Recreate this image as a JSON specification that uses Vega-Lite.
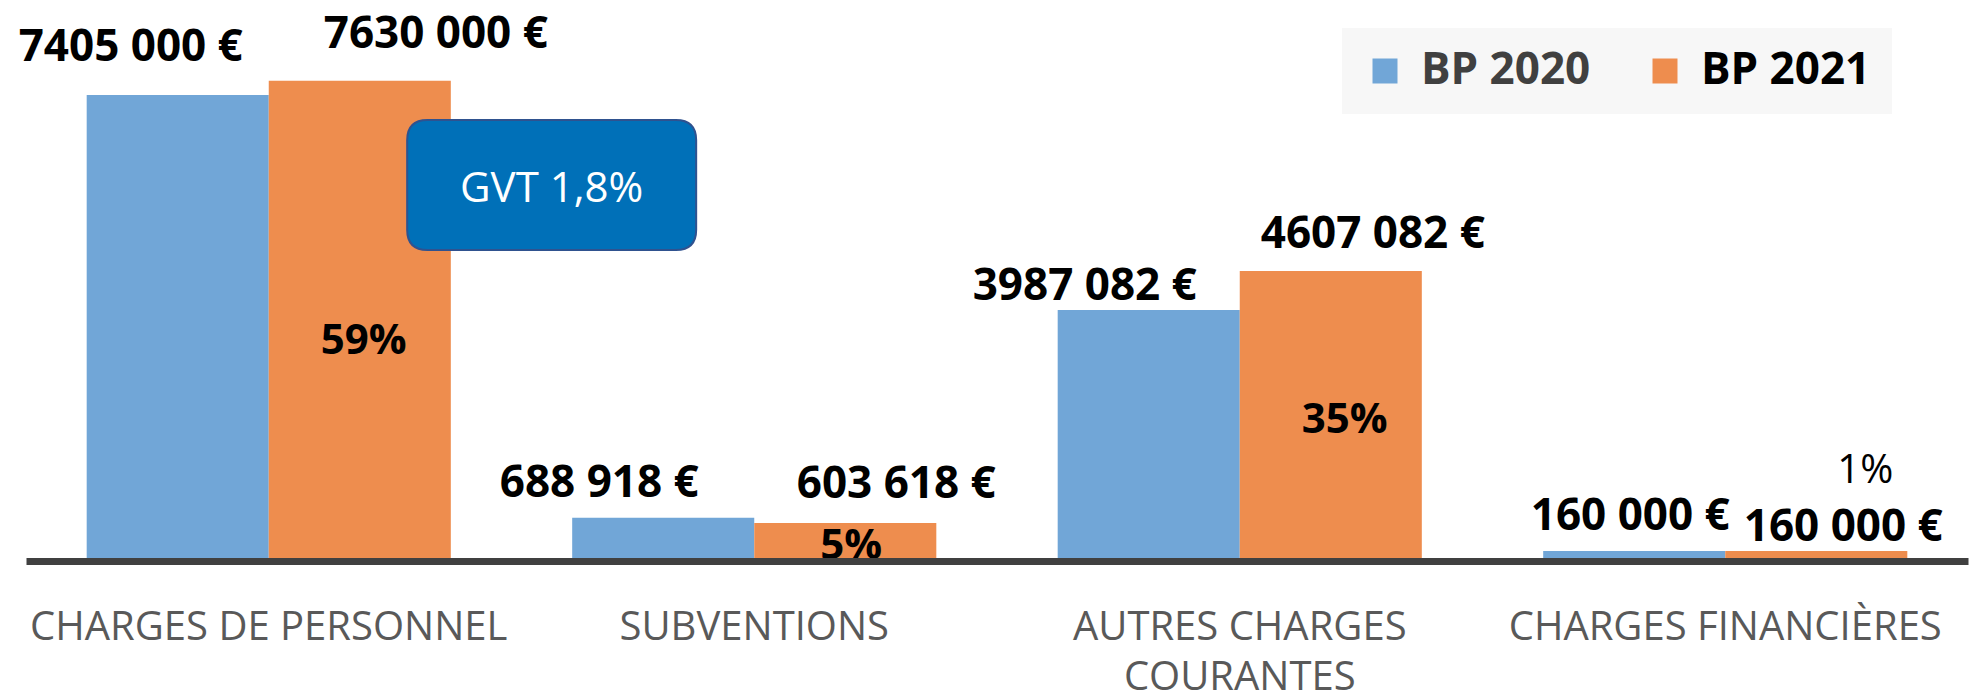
{
  "$schema": "https://vega.github.io/schema/vega-lite/v6.json",
  "width": 1942,
  "height": 561,
  "autosize": {"type": "none"},
  "padding": {"left": 26, "top": 0, "right": 14, "bottom": 139},
  "background": "#ffffff",
  "config": {"view": {"stroke": null}, "font": "Open Sans"},
  "datasets": {
    "budget": [
      {"categorie": "CHARGES DE PERSONNEL", "budget": "BP 2020", "montant": 7405000, "label": "7405 000 €", "part": null},
      {"categorie": "CHARGES DE PERSONNEL", "budget": "BP 2021", "montant": 7630000, "label": "7630 000 €", "part": "59%"},
      {"categorie": "SUBVENTIONS", "budget": "BP 2020", "montant": 688918, "label": "688 918 €", "part": null},
      {"categorie": "SUBVENTIONS", "budget": "BP 2021", "montant": 603618, "label": "603 618 €", "part": "5%"},
      {"categorie": "AUTRES CHARGES COURANTES", "budget": "BP 2020", "montant": 3987082, "label": "3987 082 €", "part": null},
      {"categorie": "AUTRES CHARGES COURANTES", "budget": "BP 2021", "montant": 4607082, "label": "4607 082 €", "part": "35%"},
      {"categorie": "CHARGES FINANCIÈRES", "budget": "BP 2020", "montant": 160000, "label": "160 000 €", "part": null},
      {"categorie": "CHARGES FINANCIÈRES", "budget": "BP 2021", "montant": 160000, "label": "160 000 €", "part": "1%"}
    ],
    "annotations": [
      {"categorie": "CHARGES DE PERSONNEL", "texte": "GVT 1,8%"}
    ]
  },
  "data": {"name": "budget"},
  "layer": [
    {
      "mark": {"type": "bar"},
      "encoding": {
        "x": {
          "field": "categorie",
          "type": "nominal",
          "scale": {
            "domain": ["CHARGES DE PERSONNEL", "SUBVENTIONS", "AUTRES CHARGES COURANTES", "CHARGES FINANCIÈRES"],
            "paddingInner": 0.25,
            "paddingOuter": 0.125
          },
          "axis": {
            "title": null,
            "ticks": false,
            "grid": false,
            "domainColor": "#404040",
            "domainWidth": 7,
            "labelFont": "Open Sans",
            "labelFontSize": 40,
            "labelColor": "#595959",
            "labelPadding": 46,
            "labelAngle": 0,
            "labelLimit": 700,
            "labelLineHeight": 50,
            "labelExpr": "datum.value == 'AUTRES CHARGES COURANTES' ? ['AUTRES CHARGES', 'COURANTES'] : datum.value",
            "zindex": 1
          }
        },
        "xOffset": {"field": "budget", "type": "nominal", "scale": {"domain": ["BP 2020", "BP 2021"]}},
        "y": {"field": "montant", "type": "quantitative", "scale": {"domain": [0, 8915000], "nice": false}, "axis": null},
        "color": {
          "field": "budget",
          "type": "nominal",
          "scale": {"domain": ["BP 2020", "BP 2021"], "range": ["#71A6D7", "#EE8D4E"]},
          "legend": {
            "title": null,
            "orient": "none",
            "legendX": 1316,
            "legendY": 28,
            "direction": "horizontal",
            "fillColor": "#F7F7F7",
            "padding": 21,
            "symbolType": "square",
            "symbolSize": 625,
            "symbolStrokeWidth": 0,
            "labelFont": "Open Sans",
            "labelFontWeight": "bold",
            "labelFontSize": 44,
            "labelColor": "#404040",
            "labelOffset": 14,
            "columnPadding": 52,
            "labelLimit": 400,
            "encode": {
              "labels": {"update": {"fill": {"signal": "datum.label === 'BP 2021' ? '#000000' : '#404040'"}}}
            }
          }
        }
      }
    },
    {
      "transform": [{"filter": "datum.budget == 'BP 2020' && datum.categorie == 'CHARGES DE PERSONNEL'"}],
      "mark": {"type": "text", "font": "Open Sans", "fontWeight": "bold", "fontSize": 44, "color": "#000000", "baseline": "alphabetic", "dx": -47, "dy": -34},
      "encoding": {
        "x": {"field": "categorie", "type": "nominal"},
        "xOffset": {"field": "budget", "type": "nominal"},
        "y": {"field": "montant", "type": "quantitative"},
        "text": {"field": "label"}
      }
    },
    {
      "transform": [{"filter": "datum.budget == 'BP 2021' && datum.categorie == 'CHARGES DE PERSONNEL'"}],
      "mark": {"type": "text", "font": "Open Sans", "fontWeight": "bold", "fontSize": 44, "color": "#000000", "baseline": "alphabetic", "dx": 76, "dy": -33},
      "encoding": {
        "x": {"field": "categorie", "type": "nominal"},
        "xOffset": {"field": "budget", "type": "nominal"},
        "y": {"field": "montant", "type": "quantitative"},
        "text": {"field": "label"}
      }
    },
    {
      "transform": [{"filter": "datum.budget == 'BP 2020' && datum.categorie == 'SUBVENTIONS'"}],
      "mark": {"type": "text", "font": "Open Sans", "fontWeight": "bold", "fontSize": 44, "color": "#000000", "baseline": "alphabetic", "dx": -64, "dy": -21},
      "encoding": {
        "x": {"field": "categorie", "type": "nominal"},
        "xOffset": {"field": "budget", "type": "nominal"},
        "y": {"field": "montant", "type": "quantitative"},
        "text": {"field": "label"}
      }
    },
    {
      "transform": [{"filter": "datum.budget == 'BP 2021' && datum.categorie == 'SUBVENTIONS'"}],
      "mark": {"type": "text", "font": "Open Sans", "fontWeight": "bold", "fontSize": 44, "color": "#000000", "baseline": "alphabetic", "dx": 51, "dy": -25},
      "encoding": {
        "x": {"field": "categorie", "type": "nominal"},
        "xOffset": {"field": "budget", "type": "nominal"},
        "y": {"field": "montant", "type": "quantitative"},
        "text": {"field": "label"}
      }
    },
    {
      "transform": [{"filter": "datum.budget == 'BP 2020' && datum.categorie == 'AUTRES CHARGES COURANTES'"}],
      "mark": {"type": "text", "font": "Open Sans", "fontWeight": "bold", "fontSize": 44, "color": "#000000", "baseline": "alphabetic", "dx": -64, "dy": -10},
      "encoding": {
        "x": {"field": "categorie", "type": "nominal"},
        "xOffset": {"field": "budget", "type": "nominal"},
        "y": {"field": "montant", "type": "quantitative"},
        "text": {"field": "label"}
      }
    },
    {
      "transform": [{"filter": "datum.budget == 'BP 2021' && datum.categorie == 'AUTRES CHARGES COURANTES'"}],
      "mark": {"type": "text", "font": "Open Sans", "fontWeight": "bold", "fontSize": 44, "color": "#000000", "baseline": "alphabetic", "dx": 42, "dy": -23},
      "encoding": {
        "x": {"field": "categorie", "type": "nominal"},
        "xOffset": {"field": "budget", "type": "nominal"},
        "y": {"field": "montant", "type": "quantitative"},
        "text": {"field": "label"}
      }
    },
    {
      "transform": [{"filter": "datum.budget == 'BP 2020' && datum.categorie == 'CHARGES FINANCIÈRES'"}],
      "mark": {"type": "text", "font": "Open Sans", "fontWeight": "bold", "fontSize": 44, "color": "#000000", "baseline": "alphabetic", "dx": -4, "dy": -21},
      "encoding": {
        "x": {"field": "categorie", "type": "nominal"},
        "xOffset": {"field": "budget", "type": "nominal"},
        "y": {"field": "montant", "type": "quantitative"},
        "text": {"field": "label"}
      }
    },
    {
      "transform": [{"filter": "datum.budget == 'BP 2021' && datum.categorie == 'CHARGES FINANCIÈRES'"}],
      "mark": {"type": "text", "font": "Open Sans", "fontWeight": "bold", "fontSize": 44, "color": "#000000", "baseline": "alphabetic", "dx": 27, "dy": -10},
      "encoding": {
        "x": {"field": "categorie", "type": "nominal"},
        "xOffset": {"field": "budget", "type": "nominal"},
        "y": {"field": "montant", "type": "quantitative"},
        "text": {"field": "label"}
      }
    },
    {
      "transform": [
        {"filter": "datum.part == '59%'"},
        {"calculate": "datum.montant / 2", "as": "milieu"}
      ],
      "mark": {"type": "text", "font": "Open Sans", "fontWeight": "bold", "fontSize": 42, "color": "#000000", "baseline": "middle", "dx": 4, "dy": 20},
      "encoding": {
        "x": {"field": "categorie", "type": "nominal"},
        "xOffset": {"field": "budget", "type": "nominal"},
        "y": {"field": "milieu", "type": "quantitative"},
        "text": {"field": "part"}
      }
    },
    {
      "transform": [
        {"filter": "datum.part == '35%'"},
        {"calculate": "datum.montant / 2", "as": "milieu"}
      ],
      "mark": {"type": "text", "font": "Open Sans", "fontWeight": "bold", "fontSize": 42, "color": "#000000", "baseline": "middle", "dx": 14, "dy": 4},
      "encoding": {
        "x": {"field": "categorie", "type": "nominal"},
        "xOffset": {"field": "budget", "type": "nominal"},
        "y": {"field": "milieu", "type": "quantitative"},
        "text": {"field": "part"}
      }
    },
    {
      "transform": [
        {"filter": "datum.part == '5%'"},
        {"calculate": "datum.montant / 2", "as": "milieu"}
      ],
      "mark": {"type": "text", "font": "Open Sans", "fontWeight": "bold", "fontSize": 42, "color": "#000000", "baseline": "middle", "dx": 6, "dy": 4},
      "encoding": {
        "x": {"field": "categorie", "type": "nominal"},
        "xOffset": {"field": "budget", "type": "nominal"},
        "y": {"field": "milieu", "type": "quantitative"},
        "text": {"field": "part"}
      }
    },
    {
      "transform": [{"filter": "datum.part == '1%'"}],
      "mark": {"type": "text", "font": "Open Sans", "fontSize": 40, "color": "#000000", "baseline": "alphabetic", "dx": 49, "dy": -68},
      "encoding": {
        "x": {"field": "categorie", "type": "nominal"},
        "xOffset": {"field": "budget", "type": "nominal"},
        "y": {"field": "montant", "type": "quantitative"},
        "text": {"field": "part"}
      }
    },
    {
      "data": {"name": "annotations"},
      "mark": {
        "type": "point",
        "shape": "M -0.86,-0.45 L 0.86,-0.45 Q 1,-0.45 1,-0.31 L 1,0.31 Q 1,0.45 0.86,0.45 L -0.86,0.45 Q -1,0.45 -1,0.31 L -1,-0.31 Q -1,-0.45 -0.86,-0.45 Z",
        "size": 83521,
        "filled": true,
        "fill": "#0070B8",
        "stroke": "#2F528F",
        "strokeWidth": 2,
        "opacity": 1
      },
      "encoding": {
        "x": {"field": "categorie", "type": "nominal", "bandPosition": 1.277},
        "y": {"datum": 5975000, "type": "quantitative"}
      }
    },
    {
      "data": {"name": "annotations"},
      "mark": {"type": "text", "font": "Open Sans", "fontSize": 42, "color": "#ffffff", "baseline": "middle", "align": "center"},
      "encoding": {
        "x": {"field": "categorie", "type": "nominal", "bandPosition": 1.277},
        "y": {"datum": 5911000, "type": "quantitative"},
        "text": {"field": "texte"}
      }
    }
  ]
}
